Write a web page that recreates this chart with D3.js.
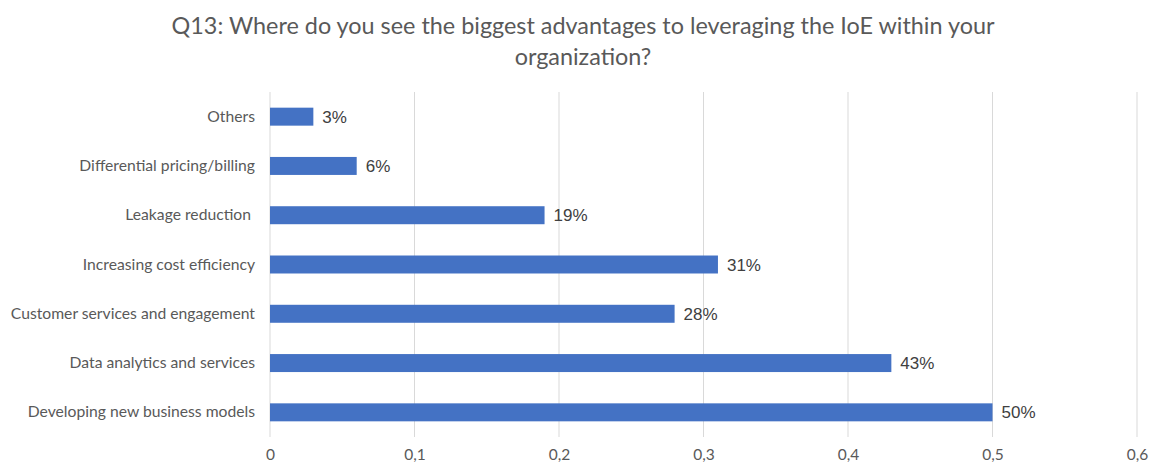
<!DOCTYPE html>
<html>
<head>
<meta charset="utf-8">
<script src="https://cdn.jsdelivr.net/npm/d3@7"></script>
<style>
  html, body { margin: 0; padding: 0; background: #fff; }
  svg text { white-space: pre; }
</style>
</head>
<body>
<svg id="chart" width="1152" height="465"></svg>
<script>
// Survey answers, top to bottom
const categories = [
  "Others",
  "Differential pricing/billing",
  "Leakage reduction ",
  "Increasing cost efficiency",
  "Customer services and engagement",
  "Data analytics and services",
  "Developing new business models"
];
const shares = [0.03, 0.06, 0.19, 0.31, 0.28, 0.43, 0.50];
const valueLabels = ["3%", "6%", "19%", "31%", "28%", "43%", "50%"];
const tickValues = [0, 0.1, 0.2, 0.3, 0.4, 0.5, 0.6];
const tickLabels = ["0", "0,1", "0,2", "0,3", "0,4", "0,5", "0,6"];
const titleLines = [
  "Q13: Where do you see the biggest advantages to leveraging the IoE within your",
  "organization?"
];

const svg = d3.select("#chart");

const x = d3.scaleLinear().domain([0, 0.6]).range([270, 1137]);
const y = d3.scaleBand().domain(categories)
  .range([92, 437]).paddingInner(0.635).paddingOuter(0.318);

const uiFont = "Lato, 'Open Sans', sans-serif";

// Title
svg.append("g").selectAll("text").data(titleLines).join("text")
  .attr("x", 583).attr("y", (d, i) => 34 + i * 31)
  .attr("text-anchor", "middle")
  .attr("font-family", uiFont).attr("font-size", 23.4)
  .attr("fill", "#595959")
  .text(d => d);

// Vertical gridlines
svg.append("g").selectAll("line").data(tickValues).join("line")
  .attr("x1", d => x(d)).attr("x2", d => x(d))
  .attr("y1", 92).attr("y2", 437)
  .attr("stroke", "#d9d9d9").attr("stroke-width", 1);

// Bars
svg.append("g").selectAll("rect").data(shares).join("rect")
  .attr("x", x(0))
  .attr("y", (d, i) => y(categories[i]))
  .attr("width", d => x(d) - x(0))
  .attr("height", y.bandwidth())
  .attr("fill", "#4472c4");

// Value labels
svg.append("g").selectAll("text").data(shares).join("text")
  .attr("x", d => x(d) + 9)
  .attr("y", (d, i) => y(categories[i]) + y.bandwidth() / 2)
  .attr("dy", "0.36em")
  .attr("font-family", "'Liberation Sans', Arial, sans-serif")
  .attr("font-size", 17)
  .attr("fill", "#404040")
  .text((d, i) => valueLabels[i]);

// Category axis
const yAxis = d3.axisLeft(y).tickSize(0).tickPadding(15);
const gy = svg.append("g").attr("transform", `translate(${x(0)},0)`).call(yAxis);
gy.select(".domain").remove();
gy.selectAll("text")
  .attr("font-family", uiFont).attr("font-size", 15.7).attr("fill", "#595959");

// Value axis
const xAxis = d3.axisBottom(x).tickValues(tickValues)
  .tickFormat((d, i) => tickLabels[i]).tickSize(0).tickPadding(12);
const gx = svg.append("g").attr("transform", "translate(0,437)").call(xAxis);
gx.select(".domain").remove();
gx.selectAll("text")
  .attr("font-family", uiFont).attr("font-size", 15.5).attr("fill", "#595959");
</script>
</body>
</html>
